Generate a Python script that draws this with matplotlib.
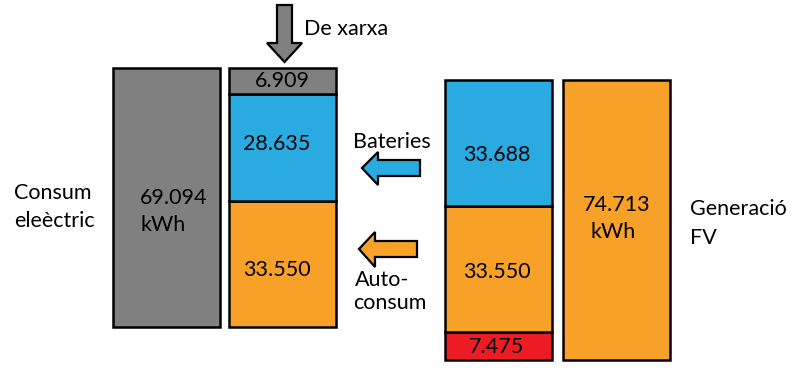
import matplotlib
matplotlib.use("Agg")
import matplotlib.pyplot as plt
from matplotlib.patches import Polygon

# ---- data (thousands of kWh, Catalan thousands separator) ----
consum_total = 69.094
consum_parts = [33.550, 28.635, 6.909]          # autoconsum, bateries, de xarxa
consum_colors = ["#F7A128", "#29ABE2", "#808080"]
gen_parts = [7.475, 33.550, 33.688]              # excedent, autoconsum, bateries
gen_colors = ["#ED1C24", "#F7A128", "#29ABE2"]
gen_total = 74.713

W, H, S = 800, 374, 3.75   # pixel canvas & px per unit
def py(ypix):
    return (H - ypix) / S

def fmt(v):
    return f"{v:.3f}"

FONT = ["Lato", "DejaVu Sans"]
FS = 15.5

fig = plt.figure(figsize=(8.0, 3.74), dpi=100)
ax = fig.add_axes([0, 0, 1, 1])
ax.set_xlim(0, W)
ax.set_ylim(0, H / S)
ax.axis("off")

bw = 107
lw = 1.8
left_base = py(327)
right_base = py(360)

# label offsets (px, downward) within segments
left_dy = [6, -3, 0]
right_dy = [1, 3, 12]

# consum total bar
ax.bar(166.5, consum_total, width=bw, bottom=left_base, color="#808080",
       edgecolor="black", linewidth=lw)
ax.text(140, py(198), fmt(consum_total), fontsize=FS, family=FONT, ha="left", va="center")
ax.text(140, py(225), "kWh", fontsize=FS, family=FONT, ha="left", va="center")

# consum stacked bar
b = left_base
for v, c, d in zip(consum_parts, consum_colors, left_dy):
    ax.bar(282.5, v, width=bw, bottom=b, color=c, edgecolor="black", linewidth=lw)
    ax.text(277 if v > 10 else 282.5, b + v / 2 - d / S, fmt(v), fontsize=FS, family=FONT,
            ha="center", va="center")
    b += v

# generation stacked bar
b = right_base
for v, c, d in zip(gen_parts, gen_colors, right_dy):
    ax.bar(498.5, v, width=bw, bottom=b, color=c, edgecolor="black", linewidth=lw)
    ax.text(497, b + v / 2 - d / S, fmt(v), fontsize=FS, family=FONT, ha="center", va="center")
    b += v

# generation total bar
ax.bar(616.5, gen_total, width=bw, bottom=right_base, color="#F7A128",
       edgecolor="black", linewidth=lw)
ax.text(583, py(205), fmt(gen_total), fontsize=FS, family=FONT, ha="left", va="center")
ax.text(591, py(232), "kWh", fontsize=FS, family=FONT, ha="left", va="center")

# arrows (pixel polygons)
def arrow_poly(pts, color):
    ax.add_patch(Polygon([(x, py(y)) for x, y in pts], closed=True,
                         facecolor=color, edgecolor="black", linewidth=1.6, zorder=5))

# down arrow (de xarxa)
arrow_poly([(277, 5), (292, 5), (292, 43), (302, 43), (284.5, 62), (267, 43), (277, 43)],
           "#808080")
# blue left arrow (bateries)
arrow_poly([(420, 160), (420, 176), (378, 176), (378, 185), (362, 168), (378, 152), (378, 160)],
           "#29ABE2")
# orange left arrow (autoconsum)
arrow_poly([(417, 241), (417, 257), (375, 257), (375, 267), (359, 249), (375, 232), (375, 241)],
           "#F7A128")

# labels
ax.text(304, py(29), "De xarxa", fontsize=FS, family=FONT, ha="left", va="center")
ax.text(392, py(142), "Bateries", fontsize=FS, family=FONT, ha="center", va="center")
ax.text(355, py(280), "Auto-", fontsize=FS, family=FONT, ha="left", va="center")
ax.text(353, py(303), "consum", fontsize=FS, family=FONT, ha="left", va="center")
ax.text(14, py(193), "Consum", fontsize=FS, family=FONT, ha="left", va="center")
ax.text(14, py(221), "eleèctric", fontsize=FS, family=FONT, ha="left", va="center")
ax.text(690, py(209), "Generació", fontsize=FS, family=FONT, ha="left", va="center")
ax.text(690, py(238), "FV", fontsize=FS, family=FONT, ha="left", va="center")

fig.savefig("out.png", dpi=100)
